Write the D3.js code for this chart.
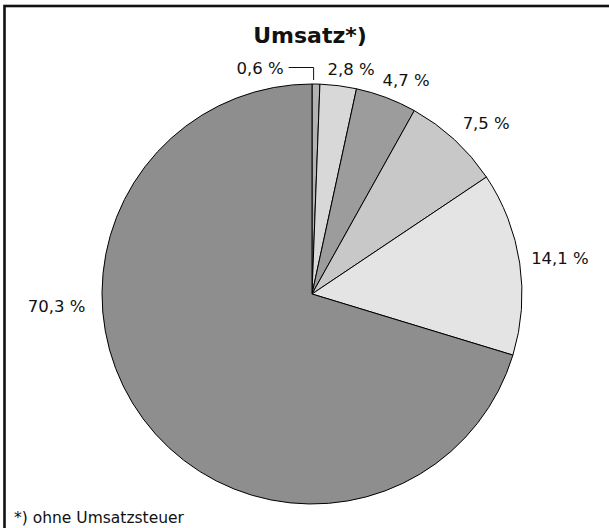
<!DOCTYPE html>
<html>
<head>
<meta charset="utf-8">
<script src="https://cdn.jsdelivr.net/npm/d3@7"></script>
<style>
  body { margin: 0; background: #fff; }
  svg { display: block; }
  text { font-family: "DejaVu Sans", sans-serif; fill: #111; }
</style>
</head>
<body>
<script>
// data, clockwise from 12 o'clock
const shares = [0.6, 2.8, 4.7, 7.5, 14.1, 70.3]
const shareLabels = ["0,6 %", "2,8 %", "4,7 %", "7,5 %", "14,1 %", "70,3 %"]
const sliceColors = ["#b2b2b2", "#d8d8d8", "#9c9c9c", "#c8c8c8", "#e4e4e4", "#8e8e8e"]

const width = 609, height = 528
const cx = 312, cy = 294, radius = 210

const svg = d3.select("body").append("svg")
    .attr("width", width)
    .attr("height", height)

// frame (runs off right/bottom like the original)
svg.append("rect")
    .attr("x", 4.5).attr("y", 6)
    .attr("width", 700).attr("height", 700)
    .attr("fill", "none")
    .attr("stroke", "#111")
    .attr("stroke-width", 2.6)

svg.append("text")
    .attr("x", 310).attr("y", 43)
    .attr("text-anchor", "middle")
    .attr("font-size", 22)
    .attr("font-weight", "bold")
    .text("Umsatz*)")

const pie = d3.pie().sort(null).value(d => d)
const arcs = pie(shares)
const arc = d3.arc().innerRadius(0).outerRadius(radius)

const g = svg.append("g").attr("transform", `translate(${cx},${cy})`)

g.selectAll("path")
    .data(arcs)
    .enter()
    .append("path")
    .attr("d", arc)
    .attr("fill", (d, i) => sliceColors[i])
    .attr("stroke", "#000")
    .attr("stroke-width", 1)

// labels: base point on a ring, then hand nudges like the original layout
const labelR = 232
const nudges = [[0, 0], [10, 5.5], [12, 3.4], [17, 0], [18.5, -1.5], [-69, -126]]
let mid = d => (d.startAngle + d.endAngle) / 2

arcs.forEach((d, i) => {
    if (i == 0) {
        // small slice: leader line going left
        let a = d.startAngle + (d.endAngle - d.startAngle) * 0.2
        let lx = Math.sin(a) * 214
        let ly = -Math.cos(a) * 214
        let elbowY = ly - 12.5
        g.append("path")
            .attr("d", `M${lx},${ly}L${lx},${elbowY}L${lx - 25},${elbowY}`)
            .attr("fill", "none")
            .attr("stroke", "#111")
            .attr("stroke-width", 1)
        g.append("text")
            .attr("x", lx - 30)
            .attr("y", elbowY + 6.5)
            .attr("text-anchor", "end")
            .attr("font-size", 16.5)
            .text(shareLabels[i])
        return
    }
    let x = Math.sin(mid(d)) * labelR + nudges[i][0]
    let y = -Math.cos(mid(d)) * labelR + nudges[i][1]
    g.append("text")
        .attr("x", x)
        .attr("y", y)
        .attr("dy", "0.35em")
        .attr("text-anchor", "middle")
        .attr("font-size", 16.5)
        .text(shareLabels[i])
})

svg.append("text")
    .attr("x", 14).attr("y", 523)
    .attr("font-size", 15.5)
    .text("*) ohne Umsatzsteuer")
</script>
</body>
</html>
